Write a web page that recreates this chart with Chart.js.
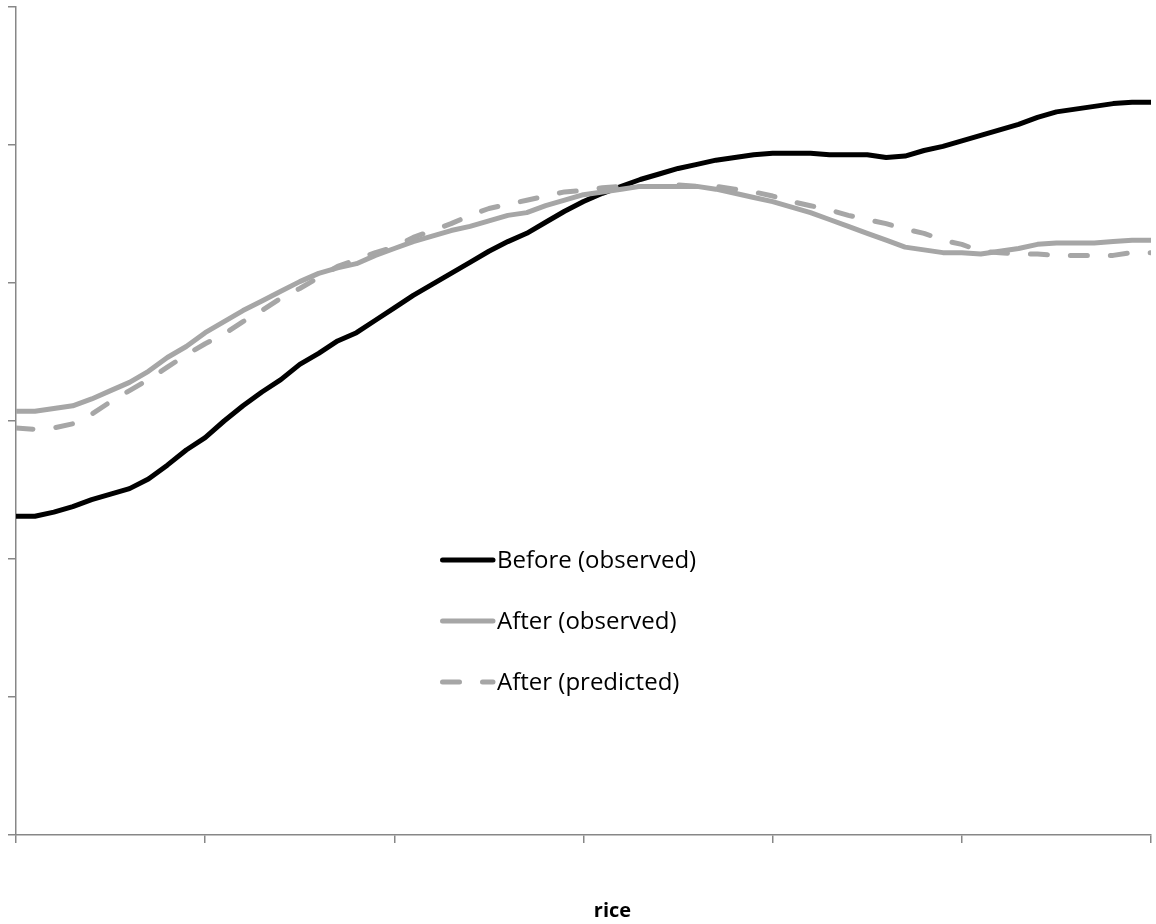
<!DOCTYPE html>
<html>
<head>
<meta charset="utf-8">
<title>rice</title>
<script src="https://cdn.jsdelivr.net/npm/chart.js@4.4.1/dist/chart.umd.min.js"></script>
<style>
  html, body { margin: 0; padding: 0; background: #ffffff; }
  #wrap { position: relative; width: 1156px; height: 924px; }
  canvas { display: block; }
</style>
</head>
<body>
<div id="wrap"><canvas id="chart" width="1156" height="924"></canvas></div>
<script>
// Position along the horizontal axis (arbitrary units, 0–60)
const positions = [
  0, 1, 2, 3, 4, 5, 6, 7, 8, 9,
  10, 11, 12, 13, 14, 15, 16, 17, 18, 19,
  20, 21, 22, 23, 24, 25, 26, 27, 28, 29,
  30, 31, 32, 33, 34, 35, 36, 37, 38, 39,
  40, 41, 42, 43, 44, 45, 46, 47, 48, 49,
  50, 51, 52, 53, 54, 55, 56, 57, 58, 59, 60
];

const beforeObserved = [
  2.31, 2.31, 2.34, 2.38, 2.43, 2.47, 2.51, 2.58, 2.68, 2.79,
  2.88, 3.00, 3.11, 3.21, 3.30, 3.41, 3.49, 3.58, 3.64, 3.73,
  3.82, 3.91, 3.99, 4.07, 4.15, 4.23, 4.30, 4.36, 4.44, 4.52,
  4.59, 4.65, 4.70, 4.75, 4.79, 4.83, 4.86, 4.89, 4.91, 4.93,
  4.94, 4.94, 4.94, 4.93, 4.93, 4.93, 4.91, 4.92, 4.96, 4.99,
  5.03, 5.07, 5.11, 5.15, 5.20, 5.24, 5.26, 5.28, 5.30, 5.31, 5.31
];

const afterObserved = [
  3.07, 3.07, 3.09, 3.11, 3.16, 3.22, 3.28, 3.36, 3.46, 3.54,
  3.64, 3.72, 3.80, 3.87, 3.94, 4.01, 4.07, 4.11, 4.14, 4.20,
  4.25, 4.30, 4.34, 4.38, 4.41, 4.45, 4.49, 4.51, 4.56, 4.60,
  4.64, 4.66, 4.68, 4.70, 4.70, 4.70, 4.70, 4.68, 4.65, 4.62,
  4.59, 4.55, 4.51, 4.46, 4.41, 4.36, 4.31, 4.26, 4.24, 4.22,
  4.22, 4.21, 4.23, 4.25, 4.28, 4.29, 4.29, 4.29, 4.30, 4.31, 4.31
];

const afterPredicted = [
  2.95, 2.94, 2.95, 2.98, 3.05, 3.14, 3.22, 3.30, 3.39, 3.48,
  3.56, 3.63, 3.72, 3.80, 3.89, 3.96, 4.04, 4.12, 4.17, 4.22,
  4.26, 4.33, 4.38, 4.43, 4.49, 4.54, 4.57, 4.60, 4.63, 4.66,
  4.67, 4.69, 4.70, 4.70, 4.70, 4.71, 4.70, 4.70, 4.68, 4.66,
  4.63, 4.59, 4.56, 4.53, 4.49, 4.46, 4.43, 4.39, 4.36, 4.31,
  4.28, 4.23, 4.22, 4.21, 4.21, 4.20, 4.20, 4.20, 4.20, 4.22, 4.22
];

const seriesLabels = ['Before (observed)', 'After (observed)', 'After (predicted)'];
const axisTitle = 'rice';

const xRange = [0, 60];
const yRange = [0, 6];

const AXIS_GREY = '#878787';
const LINE_GREY = '#a6a6a6';

function toPoints(values) {
  return values.map((v, i) => ({ x: positions[i], y: v }));
}

// Legend block and axis title drawn onto the canvas
const overlay = {
  id: 'overlay',
  afterDraw(chart) {
    const ctx = chart.ctx;
    const area = chart.chartArea;
    ctx.save();

    ctx.fillStyle = '#000000';
    ctx.font = 'bold 20px "Open Sans"';
    ctx.textAlign = 'center';
    ctx.textBaseline = 'middle';
    ctx.fillText(axisTitle, (area.left + area.right) / 2 + 29, area.bottom + 76);

    const lx0 = 442.5, lx1 = 493, tx = 497, top = 560, step = 61;
    chart.data.datasets.forEach((ds, i) => {
      const y = top + i * step;
      ctx.beginPath();
      ctx.setLineDash(ds.borderDash || []);
      ctx.lineDashOffset = 0;
      ctx.lineCap = 'round';
      ctx.lineWidth = ds.borderWidth;
      ctx.strokeStyle = ds.borderColor;
      ctx.moveTo(lx0, y);
      ctx.lineTo(lx1, y);
      ctx.stroke();
      ctx.setLineDash([]);
      ctx.fillStyle = '#000000';
      ctx.font = '24px "Open Sans"';
      ctx.textAlign = 'left';
      ctx.textBaseline = 'middle';
      ctx.fillText(ds.label, tx, y + 1);
    });
    ctx.restore();
  }
};

const axisStyle = {
  grid: {
    display: true,
    drawOnChartArea: false,
    drawTicks: true,
    tickLength: 8,
    color: AXIS_GREY,
    lineWidth: 1.5
  },
  border: { display: true, color: AXIS_GREY, width: 1.5 }
};

new Chart(document.getElementById('chart'), {
  type: 'line',
  data: {
    datasets: [
      {
        label: seriesLabels[0],
        data: toPoints(beforeObserved),
        borderColor: '#000000',
        borderWidth: 5,
        order: 3
      },
      {
        label: seriesLabels[1],
        data: toPoints(afterObserved),
        borderColor: LINE_GREY,
        borderWidth: 5,
        order: 2
      },
      {
        label: seriesLabels[2],
        data: toPoints(afterPredicted),
        borderColor: LINE_GREY,
        borderWidth: 5,
        borderDash: [17, 23],
        borderCapStyle: 'round',
        order: 1
      }
    ]
  },
  options: {
    responsive: false,
    animation: false,
    layout: { padding: { left: 8, top: 7, right: 5, bottom: 81 } },
    elements: {
      point: { radius: 0, hoverRadius: 0 },
      line: { tension: 0, borderJoinStyle: 'round', fill: false }
    },
    plugins: {
      legend: { display: false },
      tooltip: { enabled: false },
      title: { display: false }
    },
    scales: {
      x: Object.assign({
        type: 'linear',
        min: xRange[0],
        max: xRange[1],
        ticks: { display: false, stepSize: 10 }
      }, axisStyle),
      y: Object.assign({
        type: 'linear',
        min: yRange[0],
        max: yRange[1],
        ticks: { display: false, stepSize: 1 }
      }, axisStyle)
    }
  },
  plugins: [overlay]
});
</script>
</body>
</html>
